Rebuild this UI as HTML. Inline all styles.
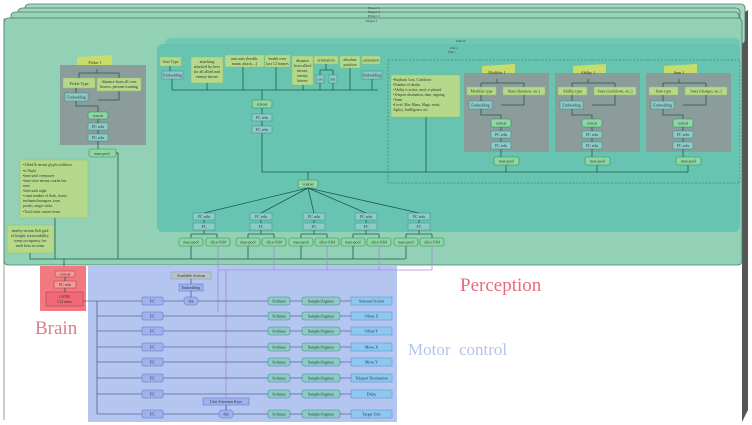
<!DOCTYPE html>
<html><head><meta charset="utf-8"><style>
html,body{margin:0;padding:0;background:#fff}
svg{display:block}
text{font-family:"Liberation Serif",serif;fill:#333}
.s{font-size:4px;text-anchor:middle}
.y{fill:#b5d98a;stroke:#8fbf6a;stroke-width:.5}
.g{fill:#8fd6a4;stroke:#2f8f5a;stroke-width:.6}
.t{fill:#7cc4c0;stroke:#3a7f8a;stroke-width:.5}
.b{fill:#9fb2ee;stroke:#5a6fc0;stroke-width:.5}
.c{fill:#8ccbc8;stroke:#3a8a8a;stroke-width:.5}
.o{fill:#8ec8f0;stroke:#4a8fd0;stroke-width:.5}
.l{stroke:#1f5a4a;stroke-width:.8;fill:none}
.lb{stroke:#2a3a7a;stroke-width:.6;fill:none}
.lp{stroke:#a58ae0;stroke-width:.8;fill:none}
</style></head><body>
<svg width="752" height="425" viewBox="0 0 752 425" xmlns="http://www.w3.org/2000/svg">
<!-- stacked frames -->
<line x1="4" y1="18" x2="4" y2="420" stroke="#999" stroke-width="1"/>
<path d="M742 14 L748 10 L748 410 L742 422 Z" fill="#555"/>
<rect x="25" y="4" width="720" height="40" rx="4" fill="#a8d8c0" stroke="#4a7a6a" stroke-width=".8"/>
<rect x="18" y="8" width="722" height="40" rx="4" fill="#a0d5bc" stroke="#4a7a6a" stroke-width=".8"/>
<rect x="11" y="12" width="728" height="40" rx="4" fill="#98d3b8" stroke="#4a7a6a" stroke-width=".8"/>
<rect x="4" y="18" width="738" height="247" rx="4" fill="#92d1b5" stroke="#4a7a6a" stroke-width=".8"/>
<text x="368" y="9" font-size="3.5">Player 3</text><text x="368" y="13" font-size="3.5">Player 2</text>
<text x="368" y="17" font-size="3.5">Player 2</text><text x="366" y="22" font-size="3.5">Player 1</text>
<!-- units teal -->
<rect x="165" y="38" width="575" height="20" rx="5" fill="#70c8b4"/>
<rect x="157" y="44" width="583" height="188" rx="6" fill="#67c4b1"/>
<text x="456" y="42" font-size="3">Units N</text><text x="450" y="49" font-size="3">Unit 2</text><text x="448" y="53" font-size="3">Unit 1</text>
<rect x="388" y="60" width="352" height="123" fill="none" stroke="#2f6a60" stroke-width=".5" stroke-dasharray="2,1.5"/>
<!-- picker -->
<path d="M77 57 L112 55 L112 66 L77 67 Z" fill="#c8dc6a"/>
<rect x="60" y="65" width="86" height="80" fill="#8c9c9b"/>
<text class="s" x="95" y="64">Picker 1</text>
<rect class="y" x="63" y="78" width="32" height="10"/><text class="s" x="79" y="85">Picker Type</text>
<rect class="y" x="97" y="78" width="44" height="13"/><text class="s" x="119" y="83">distance from all own</text><text class="s" x="119" y="88">heroes, percent training</text>
<rect class="c" x="65" y="93" width="23" height="8"/><text class="s" x="76.5" y="98.5">Embedding</text>
<path class="l" d="M79 73 V78 M119 73 V78 M79 73 H119 M97 69 V73 M76 88 V93 M76 101 V106 H98 V112 M119 91 V100 H98"/>
<rect class="g" x="88" y="112" width="20" height="7" rx="2"/><text class="s" x="98" y="117">concat</text>
<rect class="c" x="88" y="123" width="20" height="7"/><text class="s" x="98" y="128">FC relu</text>
<rect class="c" x="88" y="134" width="20" height="7"/><text class="s" x="98" y="139">FC relu</text>
<path class="l" d="M98 119 V123 M98 130 V134 M98 141 V149"/>
<rect class="g" x="89" y="149" width="27" height="8" rx="2"/><text class="s" x="102" y="155">max-pool</text>
<path class="l" d="M116 153 H118 V259"/>
<!-- notes -->
<rect class="y" x="20" y="160" width="68" height="58"/>
<text x="23" y="166" font-size="3.6">•Allied &amp; enemy glyph cooldown</text>
<text x="23" y="172" font-size="3.6">•is Night</text>
<text x="23" y="177" font-size="3.6">•time until creepwave</text>
<text x="23" y="182" font-size="3.6">•time since enemy courier last</text>
<text x="23" y="187" font-size="3.6">  seen</text>
<text x="23" y="192" font-size="3.6">•time until night</text>
<text x="23" y="197" font-size="3.6">•count number of flask, clarity,</text>
<text x="23" y="202" font-size="3.6">  enchanted mangoes, town</text>
<text x="23" y="207" font-size="3.6">  portals, magic sticks</text>
<text x="23" y="213" font-size="3.6">•Total value courier items</text>
<rect class="y" x="7" y="225" width="47" height="28"/>
<text class="s" x="30" y="232">nearby terrain 8x8 grid</text><text class="s" x="30" y="237">of height, traversability,</text>
<text class="s" x="30" y="242">creep occupancy for</text><text class="s" x="30" y="247">each hero in team</text>
<path class="l" d="M30 253 V259 H405 M55 218 V259"/>
<!-- unit inputs -->
<rect class="y" x="160" y="57" width="21" height="9"/><text class="s" x="170.5" y="63">Unit Type</text>
<rect class="c" x="162" y="71" width="21" height="8"/><text class="s" x="172.5" y="76.5">Embedding</text>
<rect class="y" x="191" y="57" width="32" height="26"/><text class="s" x="207" y="63">attacking</text><text class="s" x="207" y="68">attacked by hero</text><text class="s" x="207" y="73">for all allied and</text><text class="s" x="207" y="78">enemy heroes</text>
<rect class="y" x="225" y="55" width="39" height="12"/><text class="s" x="244.5" y="60">unit stats (health,</text><text class="s" x="244.5" y="65">mana, attack....)</text>
<rect class="y" x="265" y="55" width="25" height="12"/><text class="s" x="277.5" y="60">health over</text><text class="s" x="277.5" y="65">last 12 frames</text>
<rect class="y" x="292" y="56" width="21" height="29"/><text class="s" x="302.5" y="62">distance</text><text class="s" x="302.5" y="67">from allied</text><text class="s" x="302.5" y="72">heroes,</text><text class="s" x="302.5" y="77">enemy</text><text class="s" x="302.5" y="82">heroes</text>
<rect class="y" x="314" y="56" width="24" height="8"/><text class="s" x="326" y="61.5">orientation</text>
<rect class="c" x="316" y="75" width="8" height="8"/><text class="s" x="320" y="80.5">cos</text>
<rect class="c" x="329" y="75" width="8" height="8"/><text class="s" x="333" y="80.5">sin</text>
<rect class="y" x="340" y="56" width="20" height="12"/><text class="s" x="350" y="61">absolute</text><text class="s" x="350" y="66">position</text>
<rect class="y" x="362" y="56" width="18" height="8"/><text class="s" x="371" y="61.5">animation</text>
<rect class="c" x="362" y="71" width="20" height="8"/><text class="s" x="372" y="76.5">Embedding</text>
<path class="l" d="M170 66 V71 M172 79 V90 M207 83 V90 M243 67 V90 M276 67 V90 M303 85 V90 M326 64 V70 M320 70 H333 M320 70 V75 M333 70 V75 M320 83 V90 M333 83 V90 M350 68 V90 M372 79 V90 M172 90 H378 M262 90 V100"/>
<rect class="g" x="252" y="100" width="20" height="8" rx="2"/><text class="s" x="262" y="105.5">concat</text>
<rect class="c" x="252" y="114" width="20" height="7"/><text class="s" x="262" y="119">FC relu</text>
<rect class="c" x="252" y="126" width="20" height="7"/><text class="s" x="262" y="131">FC relu</text>
<path class="l" d="M262 108 V114 M262 121 V126 M262 133 V172 H637 M308 172 V180"/>
<!-- info box -->
<rect class="y" x="391" y="75" width="69" height="42"/>
<text x="393" y="81" font-size="3.6">•Buyback Cost, Cooldown</text>
<text x="393" y="86" font-size="3.6">•Number of deaths</text>
<text x="393" y="91" font-size="3.6">•Ability is active, used, or phased</text>
<text x="393" y="96" font-size="3.6">•Teleport destination, time, ongoing</text>
<text x="393" y="101" font-size="3.6">•Team</text>
<text x="393" y="106" font-size="3.6">•Level, Max Mana, Magic resist,</text>
<text x="393" y="111" font-size="3.6">  Agility, Intelligence, etc</text>
<path class="l" d="M426 117 V172"/>
<!-- modifier groups -->
<g>
<path d="M482 66 L515 64 L515 74 L482 76 Z" fill="#c8dc6a"/>
<rect x="464" y="73" width="85" height="79" fill="#8c9c9b"/>
<text class="s" x="497" y="74">Modifier 1</text>
<rect class="y" x="467" y="87" width="29" height="8"/><text class="s" x="481.5" y="92.5">Modifier type</text>
<rect class="y" x="503" y="87" width="42" height="8"/><text class="s" x="524" y="92.5">Stats (duration, etc.)</text>
<rect class="c" x="469" y="101" width="23" height="8"/><text class="s" x="480.5" y="106.5">Embedding</text>
<path class="l" d="M481 83 H524 M481 83 V87 M524 83 V87 M497 79 V83 M481 95 V101 M481 109 V115 H501 V119 M524 95 V105 H501"/>
<rect class="g" x="491" y="119" width="20" height="8" rx="2"/><text class="s" x="501" y="124.5">concat</text>
<rect class="c" x="491" y="131" width="20" height="7"/><text class="s" x="501" y="136">FC relu</text>
<rect class="c" x="491" y="142" width="20" height="7"/><text class="s" x="501" y="147">FC relu</text>
<path class="l" d="M501 127 V131 M501 138 V142 M501 149 V157 M506 165 V172"/>
<rect class="g" x="494" y="157" width="25" height="8" rx="2"/><text class="s" x="506.5" y="162.5">max-pool</text>
</g>
<g>
<path d="M573 66 L606 64 L606 74 L573 76 Z" fill="#c8dc6a"/>
<rect x="555" y="73" width="85" height="79" fill="#8c9c9b"/>
<text class="s" x="588" y="74">Ability 1</text>
<rect class="y" x="558" y="87" width="29" height="8"/><text class="s" x="572.5" y="92.5">Ability type</text>
<rect class="y" x="594" y="87" width="42" height="8"/><text class="s" x="615" y="92.5">Stats (cooldown, etc.)</text>
<rect class="c" x="560" y="101" width="23" height="8"/><text class="s" x="571.5" y="106.5">Embedding</text>
<path class="l" d="M572 83 H615 M572 83 V87 M615 83 V87 M588 79 V83 M572 95 V101 M572 109 V115 H592 V119 M615 95 V105 H592"/>
<rect class="g" x="582" y="119" width="20" height="8" rx="2"/><text class="s" x="592" y="124.5">concat</text>
<rect class="c" x="582" y="131" width="20" height="7"/><text class="s" x="592" y="136">FC relu</text>
<rect class="c" x="582" y="142" width="20" height="7"/><text class="s" x="592" y="147">FC relu</text>
<path class="l" d="M592 127 V131 M592 138 V142 M592 149 V157 M597 165 V172"/>
<rect class="g" x="585" y="157" width="25" height="8" rx="2"/><text class="s" x="597.5" y="162.5">max-pool</text>
</g>
<g>
<path d="M664 66 L697 64 L697 74 L664 76 Z" fill="#c8dc6a"/>
<rect x="646" y="73" width="85" height="79" fill="#8c9c9b"/>
<text class="s" x="679" y="74">Item 1</text>
<rect class="y" x="649" y="87" width="29" height="8"/><text class="s" x="663.5" y="92.5">Item type</text>
<rect class="y" x="685" y="87" width="42" height="8"/><text class="s" x="706" y="92.5">Stats (charges, etc.)</text>
<rect class="c" x="651" y="101" width="23" height="8"/><text class="s" x="662.5" y="106.5">Embedding</text>
<path class="l" d="M663 83 H706 M663 83 V87 M706 83 V87 M679 79 V83 M663 95 V101 M663 109 V115 H683 V119 M706 95 V105 H683"/>
<rect class="g" x="673" y="119" width="20" height="8" rx="2"/><text class="s" x="683" y="124.5">concat</text>
<rect class="c" x="673" y="131" width="20" height="7"/><text class="s" x="683" y="136">FC relu</text>
<rect class="c" x="673" y="142" width="20" height="7"/><text class="s" x="683" y="147">FC relu</text>
<path class="l" d="M683 127 V131 M683 138 V142 M683 149 V157 M688 165 V172"/>
<rect class="g" x="676" y="157" width="25" height="8" rx="2"/><text class="s" x="688.5" y="162.5">max-pool</text>
</g>
<path class="l" d="M637 172 H688"/>
<!-- concat fan -->
<rect class="g" x="298" y="180" width="20" height="8" rx="2"/><text class="s" x="308" y="185.5">concat</text>
<path class="l" d="M308 188 L204 213 M308 188 L261 213 M308 188 L314 213 M308 188 L366 213 M308 188 L419 213"/>
<g>
<rect class="c" x="193" y="213" width="22" height="7"/><text class="s" x="204" y="218">FC relu</text>
<rect class="c" x="193" y="223" width="22" height="7"/><text class="s" x="204" y="228">FC</text>
<rect class="c" x="250" y="213" width="22" height="7"/><text class="s" x="261" y="218">FC relu</text>
<rect class="c" x="250" y="223" width="22" height="7"/><text class="s" x="261" y="228">FC</text>
<rect class="c" x="303" y="213" width="22" height="7"/><text class="s" x="314" y="218">FC relu</text>
<rect class="c" x="303" y="223" width="22" height="7"/><text class="s" x="314" y="228">FC</text>
<rect class="c" x="355" y="213" width="22" height="7"/><text class="s" x="366" y="218">FC relu</text>
<rect class="c" x="355" y="223" width="22" height="7"/><text class="s" x="366" y="228">FC</text>
<rect class="c" x="408" y="213" width="22" height="7"/><text class="s" x="419" y="218">FC relu</text>
<rect class="c" x="408" y="223" width="22" height="7"/><text class="s" x="419" y="228">FC</text>
</g>
<path class="l" d="M204 220 V223 M204 230 V234 M191 234 H217 M191 234 V238 M217 234 V238 M261 220 V223 M261 230 V234 M248 234 H274 M248 234 V238 M274 234 V238 M314 220 V223 M314 230 V234 M301 234 H327 M301 234 V238 M327 234 V238 M366 220 V223 M366 230 V234 M353 234 H379 M353 234 V238 M379 234 V238 M419 220 V223 M419 230 V234 M406 234 H432 M406 234 V238 M432 234 V238"/>
<g>
<rect class="g" x="179" y="238" width="24" height="8" rx="2"/><text class="s" x="191" y="243.5">max-pool</text>
<rect class="g" x="206" y="238" width="24" height="8" rx="2"/><text class="s" x="218" y="243.5">slice 0:64</text>
<rect class="g" x="236" y="238" width="24" height="8" rx="2"/><text class="s" x="248" y="243.5">max-pool</text>
<rect class="g" x="262" y="238" width="24" height="8" rx="2"/><text class="s" x="274" y="243.5">slice 0:64</text>
<rect class="g" x="289" y="238" width="24" height="8" rx="2"/><text class="s" x="301" y="243.5">max-pool</text>
<rect class="g" x="315" y="238" width="24" height="8" rx="2"/><text class="s" x="327" y="243.5">slice 0:64</text>
<rect class="g" x="341" y="238" width="24" height="8" rx="2"/><text class="s" x="353" y="243.5">max-pool</text>
<rect class="g" x="367" y="238" width="24" height="8" rx="2"/><text class="s" x="379" y="243.5">slice 0:64</text>
<rect class="g" x="394" y="238" width="24" height="8" rx="2"/><text class="s" x="406" y="243.5">max-pool</text>
<rect class="g" x="420" y="238" width="24" height="8" rx="2"/><text class="s" x="432" y="243.5">slice 0:64</text>
</g>
<path class="l" d="M191 246 V259 M248 246 V259 M301 246 V259 M353 246 V259 M406 246 V259 M64 259 V266"/>
<!-- brain -->
<rect x="40" y="266" width="46" height="45" fill="#f07a80"/>
<rect x="55" y="271" width="20" height="6" rx="2" fill="#f49a9a" stroke="#b03040" stroke-width=".5"/><text class="s" x="65" y="275.5">concat</text>
<rect x="54" y="281" width="22" height="7" fill="#f49a9a" stroke="#b03040" stroke-width=".5"/><text class="s" x="65" y="286">FC relu</text>
<rect x="46" y="292" width="37" height="14" fill="#f06a78" stroke="#b03040" stroke-width=".5"/><text class="s" x="64.5" y="298">LSTM</text><text class="s" x="64.5" y="303">512 units</text>
<path class="l" d="M65 277 V281 M65 288 V292"/>
<text x="35" y="334" font-size="19" style="fill:#d98088">Brain</text>
<!-- motor -->
<rect x="88" y="266" width="309" height="156" fill="#b4c6ef"/>
<text x="460" y="291" font-size="19" style="fill:#e86a7a">Perception</text>
<text x="408" y="355" font-size="17" style="fill:#b6c4ec">Motor&#160; control</text>
<path class="lp" d="M218 246 V312 M274 246 V270 M327 246 V270 M379 246 V270 M432 246 V270 M218 270 H432 M226 270 V410"/>
<rect x="171" y="272" width="40" height="7" fill="#b9c2cc" stroke="#8a99a8" stroke-width=".5"/><text class="s" x="191" y="277">Available Actions</text>
<rect class="b" x="179" y="284" width="24" height="7"/><text class="s" x="191" y="289">Embedding</text>
<path class="lb" d="M191 279 V284 M191 291 V297"/>
<path class="lb" d="M83 301 H97 V414 M97 301 H142 M163 301 H184 M198 301 H268 M97 316 H142 M163 316 H268 M97 331 H142 M163 331 H268 M97 347 H142 M163 347 H268 M97 362 H142 M163 362 H268 M97 378 H142 M163 378 H268 M97 394 H142 M163 394 H268 M97 414 H142 M163 414 H219 M233 414 H268 M226 405 V410"/>
<g>
<rect class="b" x="142" y="297" width="21" height="8" rx="1"/><text class="s" x="152.5" y="302.5">FC</text>
<rect class="b" x="142" y="312" width="21" height="8" rx="1"/><text class="s" x="152.5" y="317.5">FC</text>
<rect class="b" x="142" y="327" width="21" height="8" rx="1"/><text class="s" x="152.5" y="332.5">FC</text>
<rect class="b" x="142" y="343" width="21" height="8" rx="1"/><text class="s" x="152.5" y="348.5">FC</text>
<rect class="b" x="142" y="358" width="21" height="8" rx="1"/><text class="s" x="152.5" y="363.5">FC</text>
<rect class="b" x="142" y="374" width="21" height="8" rx="1"/><text class="s" x="152.5" y="379.5">FC</text>
<rect class="b" x="142" y="390" width="21" height="8" rx="1"/><text class="s" x="152.5" y="395.5">FC</text>
<rect class="b" x="142" y="410" width="21" height="8" rx="1"/><text class="s" x="152.5" y="415.5">FC</text>
<rect class="b" x="184" y="297" width="14" height="8" rx="3"/><text class="s" x="191" y="302.5">dot</text>
<rect class="b" x="203" y="398" width="46" height="7"/><text class="s" x="226" y="403">Unit Attention Keys</text>
<rect class="b" x="219" y="410" width="14" height="8" rx="3"/><text class="s" x="226" y="415.5">dot</text>
</g>
<g>
<rect class="c" x="268" y="297" width="22" height="8" rx="2"/><text class="s" x="279" y="302.5">Softmax</text>
<rect class="c" x="302" y="297" width="38" height="8" rx="2"/><text class="s" x="321" y="302.5">Sample/Argmax</text>
<rect class="o" x="351" y="297" width="41" height="8"/><text class="s" x="371.5" y="302.5">Selected Action</text>
<rect class="c" x="268" y="312" width="22" height="8" rx="2"/><text class="s" x="279" y="317.5">Softmax</text>
<rect class="c" x="302" y="312" width="38" height="8" rx="2"/><text class="s" x="321" y="317.5">Sample/Argmax</text>
<rect class="o" x="351" y="312" width="41" height="8"/><text class="s" x="371.5" y="317.5">Offset X</text>
<rect class="c" x="268" y="327" width="22" height="8" rx="2"/><text class="s" x="279" y="332.5">Softmax</text>
<rect class="c" x="302" y="327" width="38" height="8" rx="2"/><text class="s" x="321" y="332.5">Sample/Argmax</text>
<rect class="o" x="351" y="327" width="41" height="8"/><text class="s" x="371.5" y="332.5">Offset Y</text>
<rect class="c" x="268" y="343" width="22" height="8" rx="2"/><text class="s" x="279" y="348.5">Softmax</text>
<rect class="c" x="302" y="343" width="38" height="8" rx="2"/><text class="s" x="321" y="348.5">Sample/Argmax</text>
<rect class="o" x="351" y="343" width="41" height="8"/><text class="s" x="371.5" y="348.5">Move X</text>
<rect class="c" x="268" y="358" width="22" height="8" rx="2"/><text class="s" x="279" y="363.5">Softmax</text>
<rect class="c" x="302" y="358" width="38" height="8" rx="2"/><text class="s" x="321" y="363.5">Sample/Argmax</text>
<rect class="o" x="351" y="358" width="41" height="8"/><text class="s" x="371.5" y="363.5">Move Y</text>
<rect class="c" x="268" y="374" width="22" height="8" rx="2"/><text class="s" x="279" y="379.5">Softmax</text>
<rect class="c" x="302" y="374" width="38" height="8" rx="2"/><text class="s" x="321" y="379.5">Sample/Argmax</text>
<rect class="o" x="351" y="374" width="41" height="8"/><text class="s" x="371.5" y="379.5">Teleport Destination</text>
<rect class="c" x="268" y="390" width="22" height="8" rx="2"/><text class="s" x="279" y="395.5">Softmax</text>
<rect class="c" x="302" y="390" width="38" height="8" rx="2"/><text class="s" x="321" y="395.5">Sample/Argmax</text>
<rect class="o" x="351" y="390" width="41" height="8"/><text class="s" x="371.5" y="395.5">Delay</text>
<rect class="c" x="268" y="410" width="22" height="8" rx="2"/><text class="s" x="279" y="415.5">Softmax</text>
<rect class="c" x="302" y="410" width="38" height="8" rx="2"/><text class="s" x="321" y="415.5">Sample/Argmax</text>
<rect class="o" x="351" y="410" width="41" height="8"/><text class="s" x="371.5" y="415.5">Target Unit</text>
</g>
<path class="lb" d="M290 301 H302 M340 301 H351 M290 316 H302 M340 316 H351 M290 331 H302 M340 331 H351 M290 347 H302 M340 347 H351 M290 362 H302 M340 362 H351 M290 378 H302 M340 378 H351 M290 394 H302 M340 394 H351 M290 414 H302 M340 414 H351"/>
</svg>
</body></html>
